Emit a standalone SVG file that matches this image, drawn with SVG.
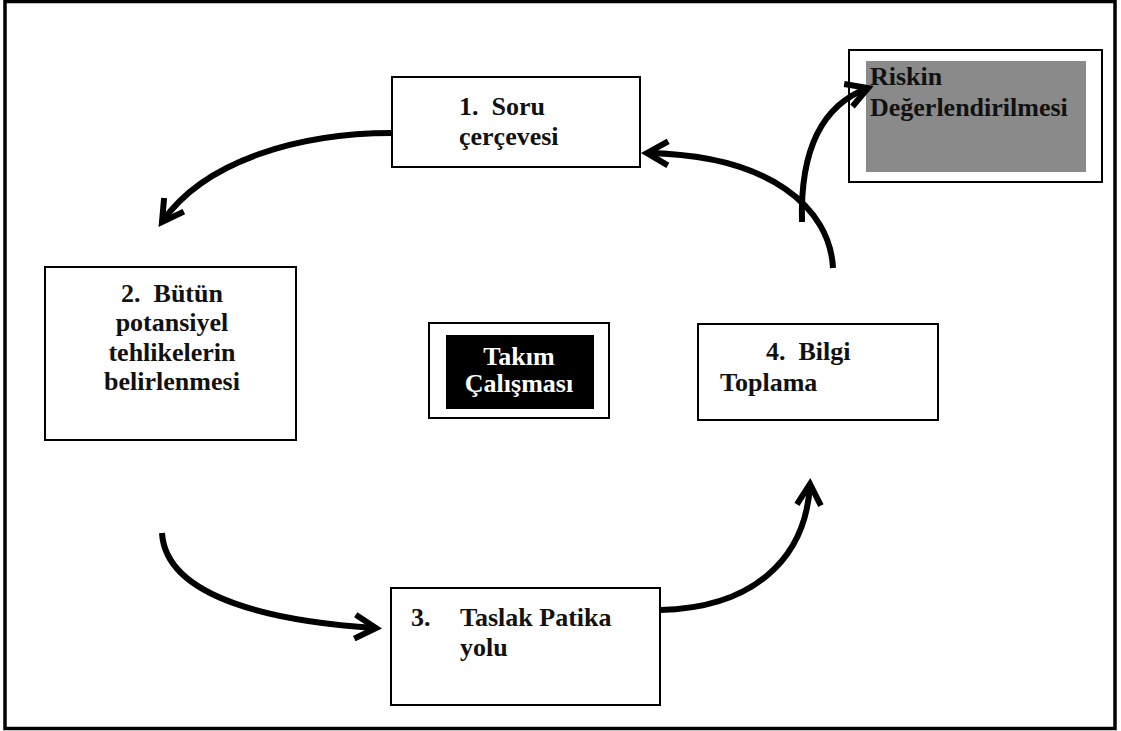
<svg xmlns="http://www.w3.org/2000/svg" width="1121" height="731" viewBox="0 0 1121 731">
  <style>
    .frame { fill: none; stroke: #000; stroke-width: 3.5; }
    .box { fill: #fff; stroke: #000; stroke-width: 2; }
    .lbl { font-family: "Liberation Serif", "Times New Roman", serif; font-weight: bold; font-size: 26px; fill: #111; white-space: pre; }
    .inv { fill: #fff; }
    .flow { fill: none; stroke: #000; stroke-width: 6; marker-end: url(#chev); }
  </style>
  <defs>
    <marker id="chev" markerUnits="userSpaceOnUse" markerWidth="40" markerHeight="40" refX="0" refY="0" viewBox="-30 -20 40 40" orient="auto" overflow="visible">
      <path d="M-21,-12 L0,0 L-21,12" fill="none" stroke="#000" stroke-width="6" stroke-linejoin="miter"/>
    </marker>
  </defs>

  <rect width="1121" height="731" fill="#fff"/>
  <rect class="frame" x="5" y="1.5" width="1110" height="727"/>

  <g id="node-soru">
    <rect class="box" x="392" y="77" width="248" height="90"/>
    <text class="lbl" x="459" y="115" xml:space="preserve">1.  Soru</text>
    <text class="lbl" x="459" y="145">çerçevesi</text>
  </g>

  <g id="node-tehlike">
    <rect class="box" x="45" y="267" width="251" height="173"/>
    <text class="lbl" text-anchor="middle" x="172" y="302" xml:space="preserve">2.  Bütün</text>
    <text class="lbl" text-anchor="middle" x="172" y="331">potansiyel</text>
    <text class="lbl" text-anchor="middle" x="172" y="361">tehlikelerin</text>
    <text class="lbl" text-anchor="middle" x="172" y="390">belirlenmesi</text>
  </g>

  <g id="node-takim">
    <rect class="box" x="429" y="323" width="180" height="95"/>
    <rect x="446" y="335" width="148" height="74" fill="#000"/>
    <text class="lbl inv" text-anchor="middle" x="519" y="365">Takım</text>
    <text class="lbl inv" text-anchor="middle" x="519" y="392">Çalışması</text>
  </g>

  <g id="node-bilgi">
    <rect class="box" x="698" y="324" width="240" height="96"/>
    <text class="lbl" x="766" y="360" xml:space="preserve">4.  Bilgi</text>
    <text class="lbl" x="720" y="391">Toplama</text>
  </g>

  <g id="node-patika">
    <rect class="box" x="391" y="588" width="269" height="117"/>
    <text class="lbl" x="411" y="626">3.</text>
    <text class="lbl" x="460" y="626">Taslak Patika</text>
    <text class="lbl" x="460" y="656">yolu</text>
  </g>

  <g id="node-risk">
    <rect class="box" x="849" y="50" width="253" height="132"/>
    <rect x="866" y="61" width="220" height="111" fill="#8a8a8a"/>
    <text class="lbl" x="870" y="85">Riskin</text>
    <text class="lbl" x="870" y="116">Değerlendirilmesi</text>
  </g>

  <g id="connectors">
    <path class="flow" d="M392,133 C300,133 205,160 162,222"/>
    <path class="flow" d="M162,533 C166,600 280,622 376,628"/>
    <path class="flow" d="M660,610 C752,608 806,560 810,484"/>
    <path class="flow" d="M833,268 C830,208 770,155 647,153"/>
    <path class="flow" d="M802,222 C800,150 822,105 868,88"/>
  </g>
</svg>
